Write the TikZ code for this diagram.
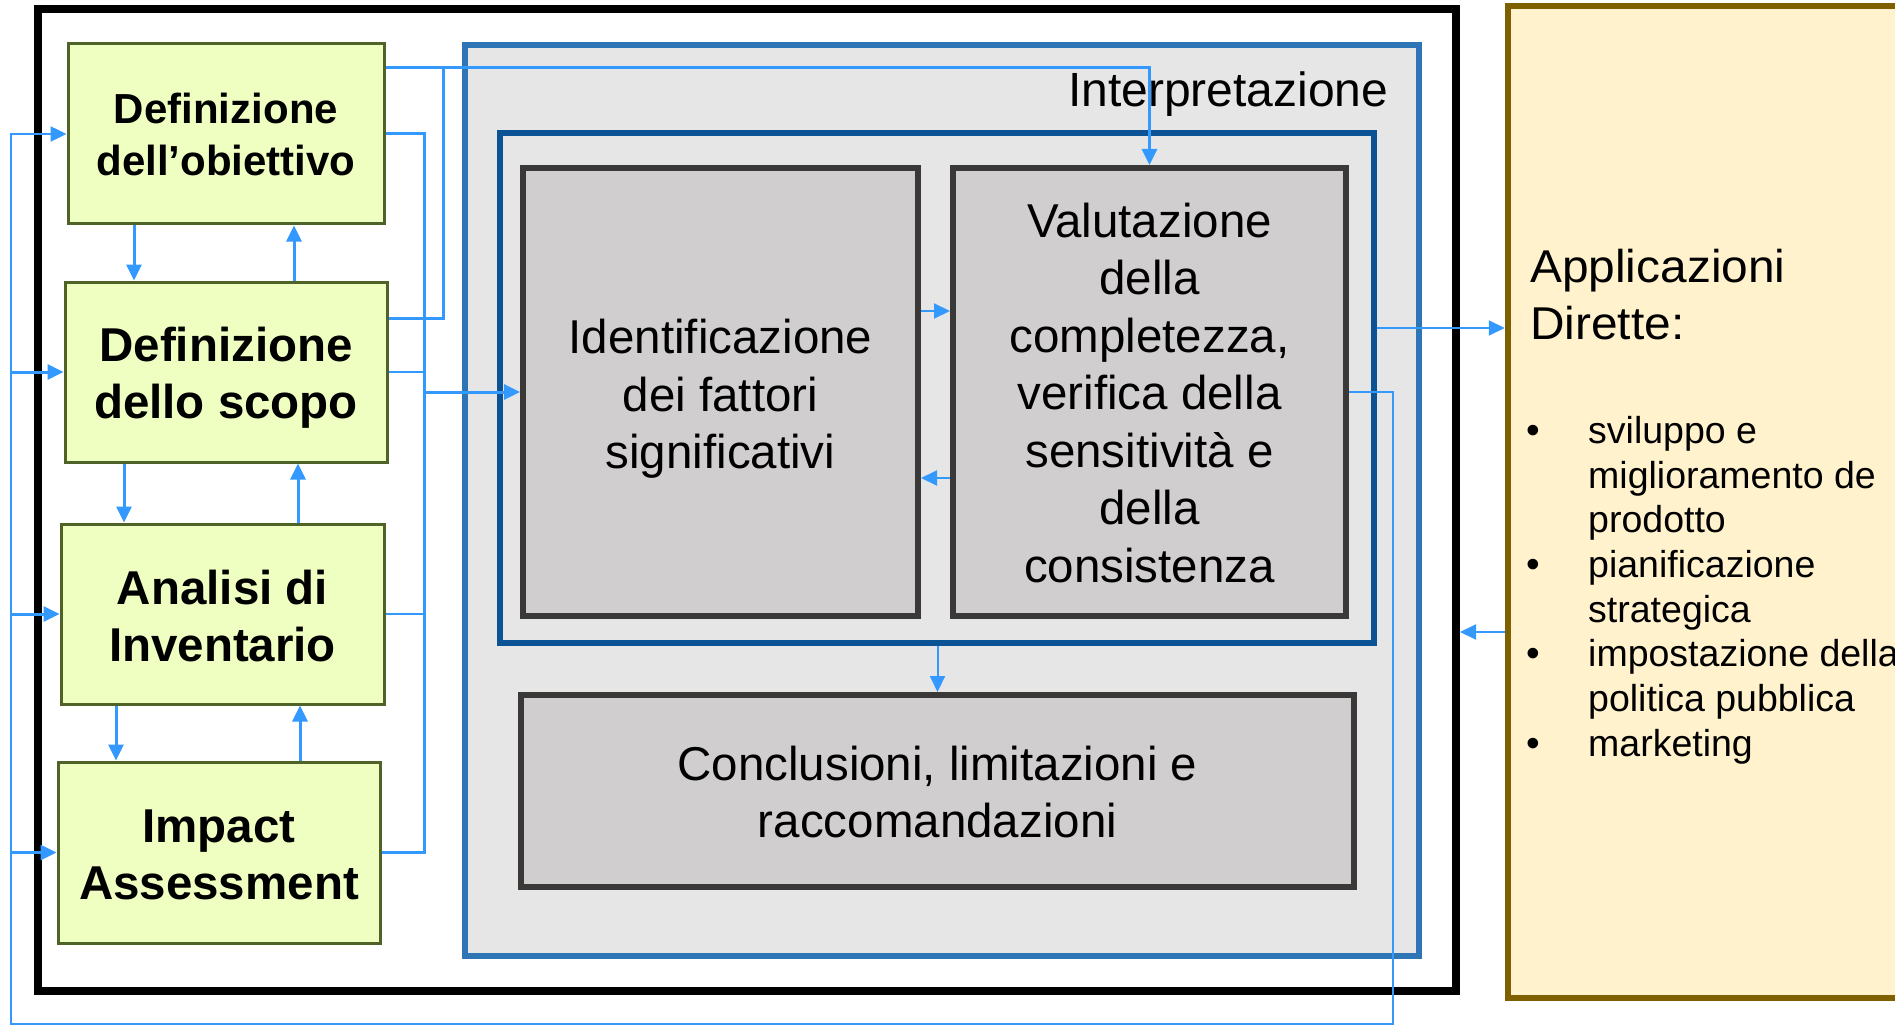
\documentclass[tikz,border=0pt]{standalone}
\usepackage{fontspec}
\setmainfont{Liberation Sans}
\newfontfamily\yfont[FakeStretch=1.04]{Liberation Sans}
\usetikzlibrary{arrows.meta,calc}
\definecolor{cblue}{HTML}{3399FF}
\definecolor{interpborder}{HTML}{2E75B6}
\definecolor{interpfill}{HTML}{E6E6E6}
\definecolor{innerborder}{HTML}{0B5394}
\definecolor{greyfill}{HTML}{D0CECE}
\definecolor{greyborder}{HTML}{3B3838}
\definecolor{gfill}{HTML}{EFFFC1}
\definecolor{gborder}{HTML}{4F6228}
\definecolor{yfill}{HTML}{FFF2CC}
\definecolor{yborder}{HTML}{7F6000}
\begin{document}
\begin{tikzpicture}[x=1pt,y=-1pt,
  greenbox/.style={draw=gborder, fill=gfill, line width=3pt, inner sep=0pt},
  greentext/.style={inner sep=0pt, align=center, font=\bfseries\fontsize{47.5}{57}\selectfont},
  greybox/.style={draw=greyborder, fill=greyfill, line width=6pt, inner sep=0pt},
  greytext/.style={inner sep=0pt, align=center, font=\fontsize{47.5}{57.5}\selectfont},
  conn/.style={draw=cblue, line width=3pt},
  loopconn/.style={draw=cblue, line width=2.5pt},
  thinconn/.style={draw=cblue, line width=2pt},
  stub/.style={draw=cblue, line width=1.5pt},
  tip/.style={-{Triangle[length=16pt,width=15pt]}},
  ytext/.style={anchor=base west, inner sep=0pt, font=\yfont\fontsize{46}{56}\selectfont},
  btext/.style={anchor=base west, inner sep=0pt, font=\fontsize{37.5}{44.7}\selectfont},
  bdot/.style={anchor=base, inner sep=0pt, font=\fontsize{39}{44.7}\selectfont},
]
\useasboundingbox (0,0) rectangle (1895,1027);
\fill[white] (0,0) rectangle (1895,1027);

% outer black frame
\node[draw=black, line width=8pt, minimum width=1418pt, minimum height=982pt, inner sep=0pt] (frame) at (747,500) {};
% applicazioni box
\node[draw=yborder, fill=yfill, line width=6.5pt, minimum width=402pt, minimum height=992pt, inner sep=0pt] (appl) at (1709,502) {};
% interpretazione box
\node[draw=interpborder, fill=interpfill, line width=6pt, minimum width=954pt, minimum height=911pt, inner sep=0pt] (interp) at (942,500.5) {};
\node[anchor=base west, inner sep=0pt, font=\fontsize{48}{58}\selectfont] (interpT) at (1068,107) {Interpretazione};
% inner dark blue box
\node[draw=innerborder, line width=6pt, minimum width=874pt, minimum height=510pt, inner sep=0pt] (inner) at (937,388) {};
% grey boxes
\node[greybox, minimum width=395pt, minimum height=448pt] (ident) at (720.5,392) {};
\node[greytext] (identT) at (720.5,399) {Identificazione\\dei fattori\\significativi};
\node[greybox, minimum width=393pt, minimum height=448pt] (val) at (1149.5,392) {};
\node[greytext] (valT) at (1149.5,393) {Valutazione\\della\\completezza,\\verifica della\\sensitività e\\della\\consistenza};
\node[greybox, minimum width=833pt, minimum height=192pt] (conc) at (937.5,791) {};
\node[greytext] (concT) at (937.5,792) {Conclusioni, limitazioni e\\raccomandazioni};
% green boxes
\node[greenbox, minimum width=316pt, minimum height=180pt] (obj) at (226,134) {};
\node[greentext, font=\bfseries\fontsize{42}{52}\selectfont] (objT) at (226,134) {Definizione\\dell’obiettivo};
\node[greenbox, minimum width=322pt, minimum height=180pt] (scopo) at (226,372) {};
\node[greentext] (scopoT) at (226,377.5) {Definizione\\dello scopo};
\node[greenbox, minimum width=323pt, minimum height=180pt] (anal) at (222.5,614) {};
\node[greentext] (analT) at (222.5,616) {Analisi di\\Inventario};
\node[greenbox, minimum width=322pt, minimum height=181pt] (impact) at (219,852.5) {};
\node[greentext] (impactT) at (219,855) {Impact\\Assessment};

% applicazioni text
\node[ytext] (at1) at (1530,282.5) {Applicazioni};
\node[ytext] (at2) at (1530,339) {Dirette:};
\node[bdot] (b1) at (1533,443) {•};
\node[btext] (l1) at (1588,443) {sviluppo e};
\node[btext] (l2) at (1588,488) {miglioramento de};
\node[btext] (l3) at (1588,532.5) {prodotto};
\node[bdot] (b2) at (1533,577) {•};
\node[btext] (l4) at (1588,577) {pianificazione};
\node[btext] (l5) at (1588,622) {strategica};
\node[bdot] (b3) at (1533,666) {•};
\node[btext] (l6) at (1588,666) {impostazione della};
\node[btext] (l7) at (1588,711) {politica pubblica};
\node[bdot] (b4) at (1533,756) {•};
\node[btext] (l8) at (1588,756) {marketing};

% connectors between green boxes
\draw[conn,tip] (obj.south -| 134,0) -- (scopo.north -| 134,0);
\draw[conn,tip] (scopo.north -| 294,0) -- (obj.south -| 294,0);
\draw[conn,tip] (scopo.south -| 124,0) -- (anal.north -| 124,0);
\draw[conn,tip] (anal.north -| 298,0) -- (scopo.south -| 298,0);
\draw[conn,tip] (anal.south -| 116,0) -- (impact.north -| 116,0);
\draw[conn,tip] (impact.north -| 300,0) -- (anal.south -| 300,0);

% right collector of green boxes
\coordinate (rb) at (424,852.5);
\draw[conn] (obj.east) -| (rb) -- (impact.east);
\draw[stub] (scopo.east) -- (scopo.east -| rb);
\draw[stub] (anal.east) -- (anal.east -| rb);
\draw[conn,tip] (ident.west -| rb) -- (ident.west);

% top connector to Valutazione
\coordinate (topc) at (1149.5,68);
\coordinate (sj) at (443,318);
\draw[conn,tip] (obj.east |- topc) -- (topc) -- (val.north);
\draw[conn] (scopo.east |- sj) -- (sj) -- (sj |- topc);

% between grey boxes
\draw[thinconn,tip] (ident.east |- 0,311) -- (val.west |- 0,311);
\draw[thinconn,tip] (val.west |- 0,478) -- (ident.east |- 0,478);
\draw[thinconn,tip] (conc.north |- inner.south) -- (conc.north);

% to and from applicazioni
\draw[thinconn,tip] (inner.east |- 0,328) -- (appl.west |- 0,328);
\draw[thinconn,tip] (appl.west |- 0,632) -- (frame.east |- 0,632);

% feedback loop
\coordinate (lr) at (1393,1024);
\coordinate (ll) at (11,1024);
\draw[loopconn,tip] (val.east) -| (lr) -- (ll) |- (obj.west);
\draw[conn,tip] (ll |- scopo.west) -- (scopo.west);
\draw[conn,tip] (ll |- anal.west) -- (anal.west);
\draw[conn,tip] (ll |- impact.west) -- (impact.west);
\end{tikzpicture}
\end{document}
